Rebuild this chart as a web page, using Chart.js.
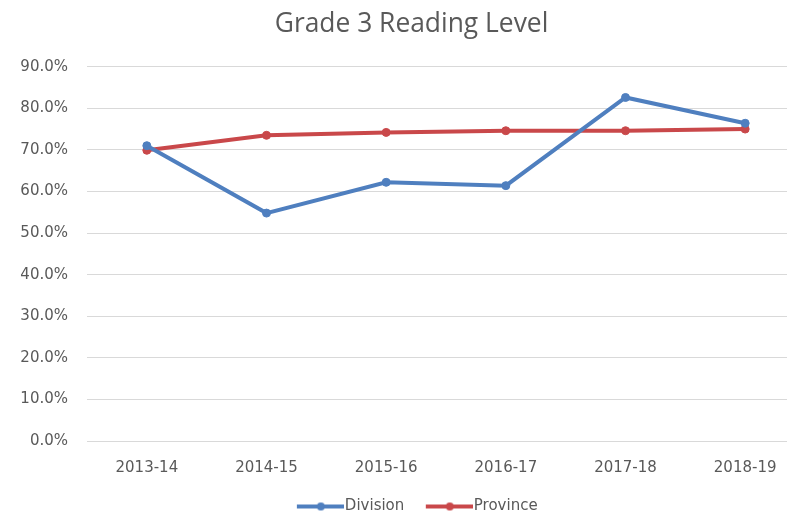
<!DOCTYPE html>
<html>
<head>
<meta charset="utf-8">
<script src="https://cdn.jsdelivr.net/npm/chart.js@4"></script>
<style>
html,body{margin:0;padding:0;background:#fff;overflow:hidden;width:787px;height:522px;}
#wrap{width:836px;height:522px;}
</style>
</head>
<body>
<div id="wrap"><canvas id="c" width="836" height="522"></canvas></div>
<script>
const chartTitle = "Grade 3 Reading Level";
const categories = ["2013-14","2014-15","2015-16","2016-17","2017-18","2018-19"];
const divisionValues = [71.0, 54.8, 62.2, 61.4, 82.6, 76.4];
const provinceValues = [69.9, 73.5, 74.2, 74.6, 74.6, 75.0];
const seriesNames = ["Division","Province"];
const yTicksMin = 0, yTicksMax = 90, yTickStep = 10;

const blue = "#4f7fbf";
const red = "#c9484a";
const textColor = "#595959";
const titleFont = "'Open Sans', sans-serif";
const tickFont = "'DejaVu Sans', sans-serif";

function legendIcon(color){
  const cv = document.createElement('canvas');
  cv.width = 65; cv.height = 12;
  const x = cv.getContext('2d');
  x.strokeStyle = color; x.lineWidth = 4;
  x.beginPath(); x.moveTo(18,6); x.lineTo(65,6); x.stroke();
  x.fillStyle = color;
  x.beginPath(); x.arc(42,6,4,0,Math.PI*2); x.fill();
  return cv;
}
const icons = [legendIcon(blue), legendIcon(red)];

new Chart(document.getElementById('c'), {
  type: 'line',
  data: {
    labels: categories,
    datasets: [
      {label: seriesNames[0], data: divisionValues, borderColor: blue, backgroundColor: blue,
       borderWidth: 4, pointRadius: 4, pointBorderWidth: 1, pointBackgroundColor: blue, pointBorderColor: blue, tension: 0},
      {label: seriesNames[1], data: provinceValues, borderColor: red, backgroundColor: red,
       borderWidth: 4, pointRadius: 4, pointBorderWidth: 1, pointBackgroundColor: red, pointBorderColor: red, tension: 0}
    ]
  },
  options: {
    responsive: false,
    animation: false,
    devicePixelRatio: 1,
    layout: {padding: {left: 18, right: 31, top: 0, bottom: -2}},
    plugins: {
      title: {display: true, text: chartTitle, color: textColor,
        font: {family: titleFont, size: 26.4, weight: 'normal'}, padding: {top: 9, bottom: 26}},
      legend: {position: 'bottom',
        labels: {color: textColor, font: {family: tickFont, size: 15}, usePointStyle: true,
          pointStyleWidth: 52, boxHeight: 12, padding: 10,
          generateLabels: (chart) => Chart.defaults.plugins.legend.labels.generateLabels(chart).map((l,i)=>{ l.pointStyle = icons[i]; return l; })
        }},
      tooltip: {enabled: false}
    },
    scales: {
      x: {
        offset: true,
        grid: {display: false, drawTicks: false},
        border: {display: false},
        ticks: {color: textColor, font: {family: tickFont, size: 15}, padding: 18, maxRotation: 0},
        afterFit: (s) => { s.height = 48; }
      },
      y: {
        min: yTicksMin, max: yTicksMax,
        grid: {color: '#d9d9d9', lineWidth: 1, drawTicks: false},
        border: {display: false},
        ticks: {stepSize: yTickStep, color: textColor, font: {family: tickFont, size: 15}, padding: 19,
          callback: (v) => v.toFixed(1) + '%'},
        afterFit: (s) => { s.width = 69; }
      }
    }
  }
});
</script>
</body>
</html>
